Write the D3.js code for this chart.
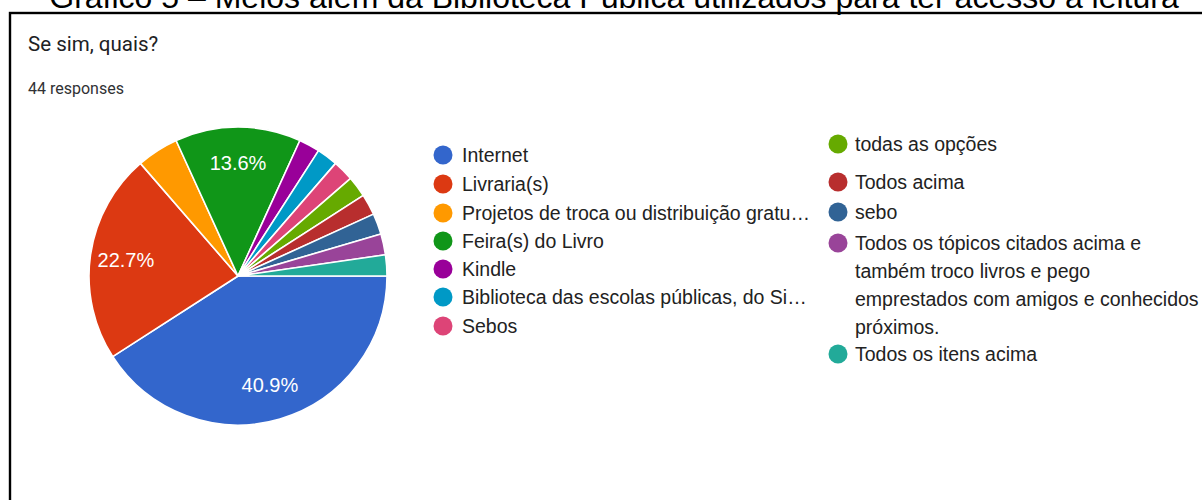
<!DOCTYPE html>
<html>
<head>
<meta charset="utf-8">
<script src="https://cdn.jsdelivr.net/npm/d3@7"></script>
<style>
  html, body { margin: 0; padding: 0; background: #fff; }
  svg { display: block; }
</style>
</head>
<body>
<svg id="chart" width="1202" height="500"></svg>
<script>
// Answers to "Se sim, quais?" (44 responses)
const categories = [
  "Internet",
  "Livraria(s)",
  "Projetos de troca ou distribuição gratu…",
  "Feira(s) do Livro",
  "Kindle",
  "Biblioteca das escolas públicas, do Si…",
  "Sebos",
  "todas as opções",
  "Todos acima",
  "sebo",
  "Todos os tópicos citados acima e também troco livros e pego emprestados com amigos e conhecidos próximos.",
  "Todos os itens acima"
];
const counts = [18, 10, 2, 6, 1, 1, 1, 1, 1, 1, 1, 1];
const colors = ["#3366cc", "#dc3912", "#ff9900", "#109618", "#990099", "#0099c6",
                "#dd4477", "#66aa00", "#b82e2e", "#316395", "#994499", "#22aa99"];
// Wrapped lines for the long legend entry
const longLabelLines = [
  "Todos os tópicos citados acima e",
  "também troco livros e pego",
  "emprestados com amigos e conhecidos",
  "próximos."
];

const svg = d3.select("#chart");
const W = 1202, H = 500;

// Figure caption above the card (partly hidden by the top edge)
svg.append("text")
  .attr("x", 614).attr("y", 7.5)
  .attr("text-anchor", "middle")
  .attr("font-family", "Liberation Sans, Arial, sans-serif")
  .attr("font-size", 32)
  .attr("fill", "#000")
  .text("Gráfico 5 – Meios além da Biblioteca Pública utilizados para ter acesso à leitura");

// Card frame
svg.append("rect")
  .attr("x", 10).attr("y", 13)
  .attr("width", W + 20).attr("height", H + 20)
  .attr("fill", "none")
  .attr("stroke", "#000")
  .attr("stroke-width", 2.4);

svg.append("text")
  .attr("x", 28).attr("y", 51)
  .attr("font-family", "Roboto, sans-serif")
  .attr("font-size", 20.5)
  .attr("fill", "#202124")
  .text("Se sim, quais?");

svg.append("text")
  .attr("x", 28).attr("y", 94)
  .attr("font-family", "Roboto, sans-serif")
  .attr("font-size", 16)
  .attr("fill", "#303134")
  .text("44 responses");

// Pie
const cx = 238, cy = 276, R = 149;
const total = d3.sum(counts);
const data = categories.map((c, i) => ({ name: c, value: counts[i], color: colors[i] }));

const pie = d3.pie()
  .value(d => d.value)
  .sort(null)
  .startAngle(Math.PI / 2)
  .endAngle(Math.PI / 2 + 2 * Math.PI);

const arcs = pie(data);
const arc = d3.arc().innerRadius(0).outerRadius(R);
const labelArc = d3.arc().innerRadius(R * 0.76).outerRadius(R * 0.76);

const g = svg.append("g").attr("transform", `translate(${cx},${cy})`);

g.selectAll("path.slice")
  .data(arcs)
  .join("path")
  .attr("class", "slice")
  .attr("d", arc)
  .attr("fill", d => d.data.color)
  .attr("stroke", "#fff")
  .attr("stroke-width", 1.6)
  .attr("stroke-linejoin", "round");

const fmt = d3.format(".1f");
g.selectAll("text.pct")
  .data(arcs.filter(d => d.data.value / total >= 0.1))
  .join("text")
  .attr("class", "pct")
  .attr("transform", d => `translate(${labelArc.centroid(d)})`)
  .attr("text-anchor", "middle")
  .attr("dy", "0.36em")
  .attr("font-family", "Liberation Sans, Arial, sans-serif")
  .attr("font-size", 20)
  .attr("fill", "#fff")
  .text(d => fmt(d.data.value / total * 100) + "%");

// Legend, two columns
const legendFont = "Liberation Sans, Arial, sans-serif";
const legendSize = 19.5;
const col1 = { cx: 443, tx: 462, ys: [155, 184, 213, 241, 269, 297, 326] };
const col2 = { cx: 838, tx: 855, ys: [144, 182, 212, 243, 354] };

const leg = svg.append("g");
data.forEach((d, i) => {
  const col = i < 7 ? col1 : col2;
  const y = i < 7 ? col1.ys[i] : col2.ys[i - 7];
  leg.append("circle")
    .attr("cx", col.cx).attr("cy", y).attr("r", 9.5)
    .attr("fill", d.color);
  const lines = (d.name.length > 60) ? longLabelLines : [d.name];
  lines.forEach((line, j) => {
    leg.append("text")
      .attr("x", col.tx).attr("y", y + j * 28)
      .attr("dy", "0.35em")
      .attr("font-family", legendFont)
      .attr("font-size", legendSize)
      .attr("fill", "#222")
      .text(line);
  });
});
</script>
</body>
</html>
